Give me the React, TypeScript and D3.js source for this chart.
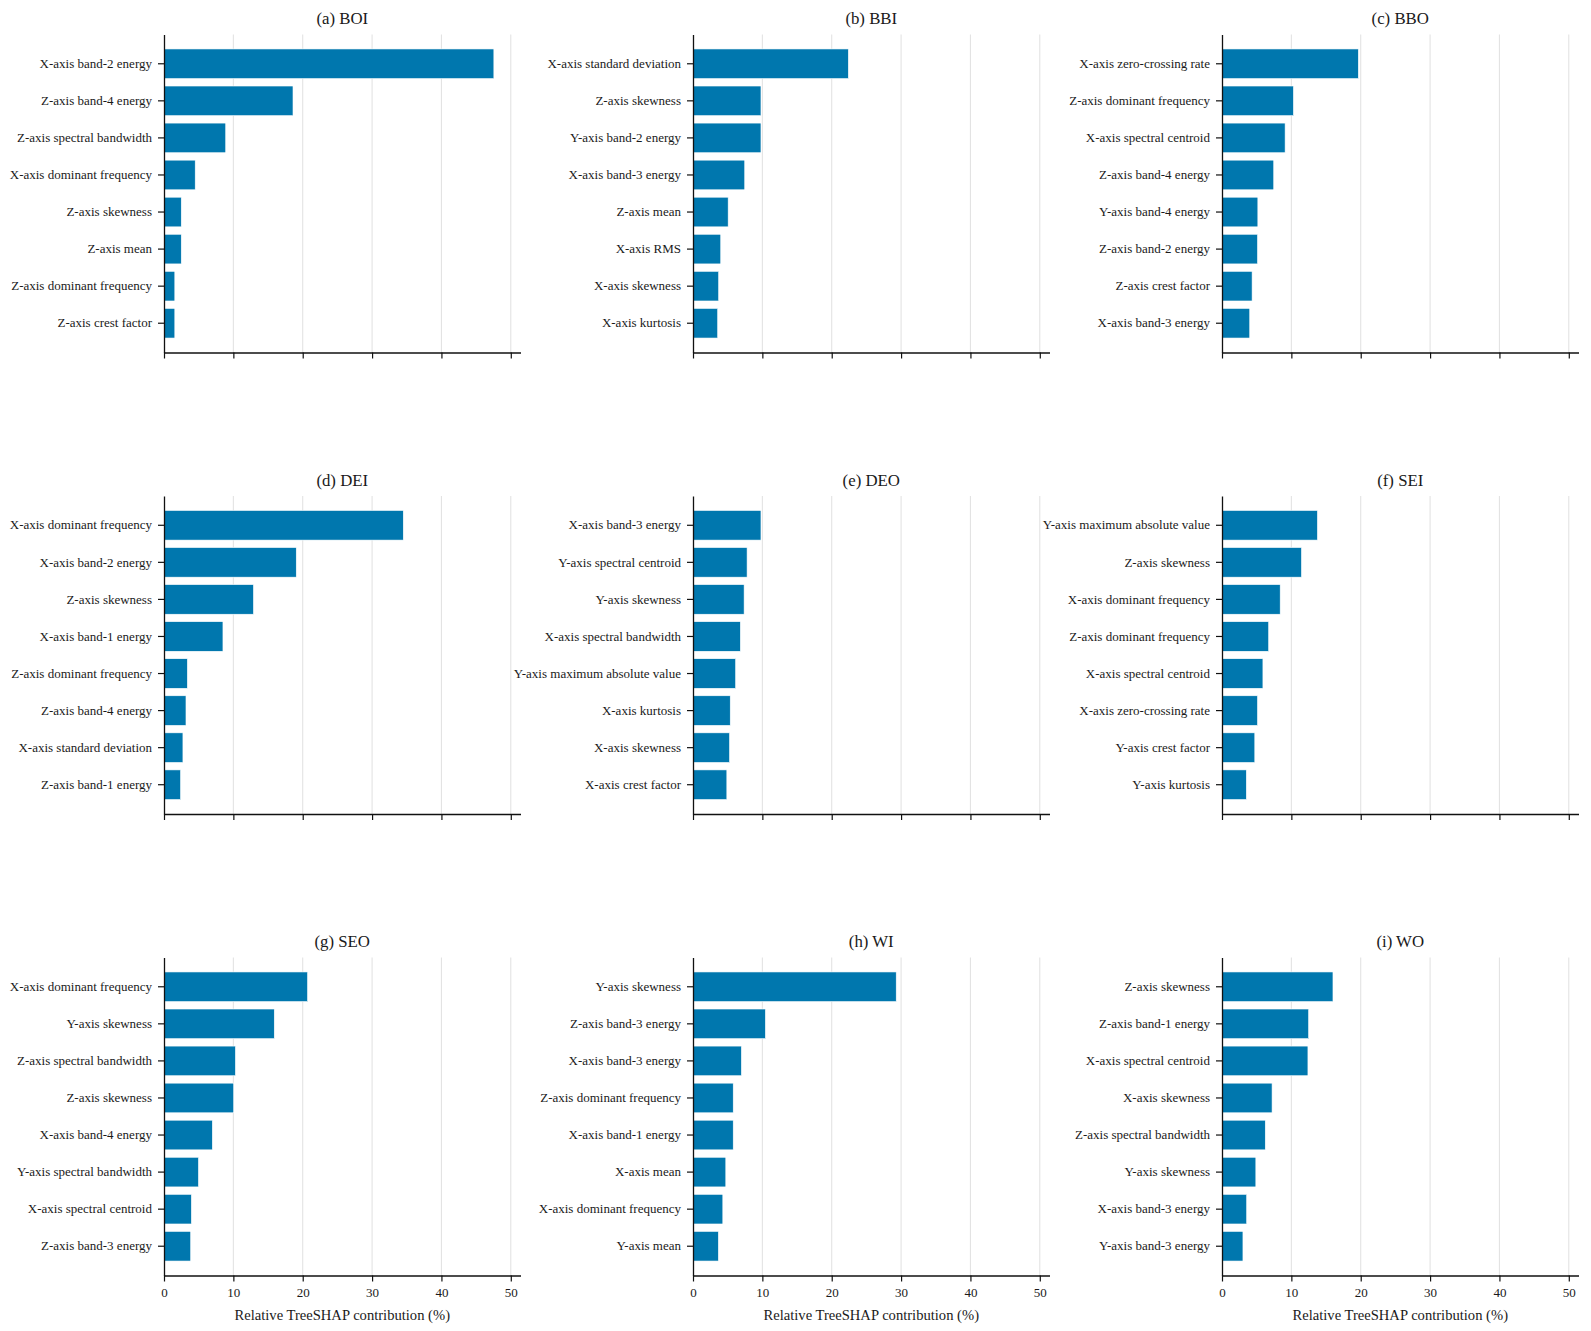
import React, { useEffect, useRef } from 'react';
import * as d3 from 'd3';

// panel titles, in reading order
const panelTitles = ['(a) BOI', '(b) BBI', '(c) BBO', '(d) DEI', '(e) DEO', '(f) SEI', '(g) SEO', '(h) WI', '(i) WO'];

const boiFeatures = ['X-axis band-2 energy', 'Z-axis band-4 energy', 'Z-axis spectral bandwidth', 'X-axis dominant frequency', 'Z-axis skewness', 'Z-axis mean', 'Z-axis dominant frequency', 'Z-axis crest factor'];
const boiValues = [47.56, 18.6, 8.9, 4.5, 2.49, 2.49, 1.56, 1.56];

const bbiFeatures = ['X-axis standard deviation', 'Z-axis skewness', 'Y-axis band-2 energy', 'X-axis band-3 energy', 'Z-axis mean', 'X-axis RMS', 'X-axis skewness', 'X-axis kurtosis'];
const bbiValues = [22.4, 9.8, 9.8, 7.46, 5.07, 4.0, 3.7, 3.56];

const bboFeatures = ['X-axis zero-crossing rate', 'Z-axis dominant frequency', 'X-axis spectral centroid', 'Z-axis band-4 energy', 'Y-axis band-4 energy', 'Z-axis band-2 energy', 'Z-axis crest factor', 'X-axis band-3 energy'];
const bboValues = [19.66, 10.3, 9.1, 7.46, 5.17, 5.12, 4.34, 4.0];

const deiFeatures = ['X-axis dominant frequency', 'X-axis band-2 energy', 'Z-axis skewness', 'X-axis band-1 energy', 'Z-axis dominant frequency', 'Z-axis band-4 energy', 'X-axis standard deviation', 'Z-axis band-1 energy'];
const deiValues = [34.5, 19.07, 12.9, 8.5, 3.37, 3.17, 2.73, 2.39];

const deoFeatures = ['X-axis band-3 energy', 'Y-axis spectral centroid', 'Y-axis skewness', 'X-axis spectral bandwidth', 'Y-axis maximum absolute value', 'X-axis kurtosis', 'X-axis skewness', 'X-axis crest factor'];
const deoValues = [9.8, 7.8, 7.37, 6.83, 6.15, 5.37, 5.27, 4.88];

const seiFeatures = ['Y-axis maximum absolute value', 'Z-axis skewness', 'X-axis dominant frequency', 'Z-axis dominant frequency', 'X-axis spectral centroid', 'X-axis zero-crossing rate', 'Y-axis crest factor', 'Y-axis kurtosis'];
const seiValues = [13.76, 11.46, 8.39, 6.73, 5.9, 5.12, 4.73, 3.51];

const seoFeatures = ['X-axis dominant frequency', 'Y-axis skewness', 'Z-axis spectral bandwidth', 'Z-axis skewness', 'X-axis band-4 energy', 'Y-axis spectral bandwidth', 'X-axis spectral centroid', 'Z-axis band-3 energy'];
const seoValues = [20.7, 15.9, 10.3, 10.05, 6.97, 4.97, 3.95, 3.85];

const wiFeatures = ['Y-axis skewness', 'Z-axis band-3 energy', 'X-axis band-3 energy', 'Z-axis dominant frequency', 'X-axis band-1 energy', 'X-axis mean', 'X-axis dominant frequency', 'Y-axis mean'];
const wiValues = [29.3, 10.44, 6.98, 5.8, 5.8, 4.73, 4.3, 3.66];

const woFeatures = ['Z-axis skewness', 'Z-axis band-1 energy', 'X-axis spectral centroid', 'X-axis skewness', 'Z-axis spectral bandwidth', 'Y-axis skewness', 'X-axis band-3 energy', 'Y-axis band-3 energy'];
const woValues = [16.0, 12.49, 12.39, 7.22, 6.24, 4.88, 3.56, 3.02];

const xTicks = [0, 10, 20, 30, 40, 50];
const xMax = 51.4;
const xLabel = 'Relative TreeSHAP contribution (%)';

const BAR_COLOR = '#0077ae';
const FONT = '"Liberation Serif", "Times New Roman", serif';

export default function App() {
  const svgRef = useRef<SVGSVGElement>(null);

  useEffect(() => {
    if (!svgRef.current) return;
    const svg = d3.select(svgRef.current);
    svg.selectAll('*').remove();

    const features = [boiFeatures, bbiFeatures, bboFeatures, deiFeatures, deoFeatures, seiFeatures, seoFeatures, wiFeatures, woFeatures];
    const values = [boiValues, bbiValues, bboValues, deiValues, deoValues, seiValues, seoValues, wiValues, woValues];

    // plot area layout
    const colLeft = [164, 693, 1222];
    const rowTop = [34.5, 496, 957.5];
    const plotW = 356.5;
    const plotH = 318;

    panelTitles.forEach((title, p) => {
      const col = p % 3;
      const row = Math.floor(p / 3);
      const g = svg.append('g').attr('transform', `translate(${colLeft[col]},${rowTop[row]})`);

      const x = d3.scaleLinear().domain([0, xMax]).range([0, plotW]);
      const y = d3.scaleBand<string>()
        .domain(features[p])
        .range([0, plotH])
        .paddingInner(0.2)
        .paddingOuter(0.39);

      // grid
      g.selectAll('.grid')
        .data(xTicks.filter(t => t > 0))
        .join('line')
        .attr('x1', d => x(d))
        .attr('x2', d => x(d))
        .attr('y1', 0)
        .attr('y2', plotH)
        .attr('stroke', '#e3e3e3')
        .attr('stroke-width', 1.1);

      // bars
      g.selectAll('.bar')
        .data(features[p])
        .join('rect')
        .attr('x', x(0))
        .attr('y', d => y(d)!)
        .attr('width', (_, i) => x(values[p][i]) - x(0))
        .attr('height', y.bandwidth())
        .attr('fill', BAR_COLOR)
        .attr('stroke', '#ffffff')
        .attr('stroke-width', 0.6);

      // y axis
      const yAxis = g.append('g')
        .call(d3.axisLeft(y).tickSize(6).tickPadding(6).tickSizeOuter(0));
      yAxis.select('.domain').attr('stroke', '#111').attr('stroke-width', 1.3);
      yAxis.selectAll('.tick line').attr('stroke', '#111').attr('stroke-width', 1.2);
      yAxis.selectAll('.tick text')
        .attr('font-family', FONT)
        .attr('font-size', 13)
        .attr('fill', '#1a1a1a');

      // x axis
      const xAxis = g.append('g')
        .attr('transform', `translate(0,${plotH})`)
        .call(d3.axisBottom(x).tickValues(xTicks).tickSize(6).tickPadding(6).tickSizeOuter(0)
          .tickFormat(row === 2 ? (d => `${d}`) : () => ''));
      xAxis.select('.domain').attr('stroke', '#111').attr('stroke-width', 1.3);
      xAxis.selectAll('.tick line').attr('stroke', '#111').attr('stroke-width', 1.2);
      xAxis.selectAll('.tick text')
        .attr('font-family', FONT)
        .attr('font-size', 13)
        .attr('fill', '#1a1a1a');

      if (row === 2) {
        g.append('text')
          .attr('x', plotW / 2)
          .attr('y', plotH + 44)
          .attr('text-anchor', 'middle')
          .attr('font-family', FONT)
          .attr('font-size', 14.6)
          .attr('fill', '#1a1a1a')
          .text(xLabel);
      }

      g.append('text')
        .attr('x', plotW / 2)
        .attr('y', -10.5)
        .attr('text-anchor', 'middle')
        .attr('font-family', FONT)
        .attr('font-size', 16.8)
        .attr('fill', '#1a1a1a')
        .text(title);
    });
  }, []);

  return (
    <>
      <style>{'body{margin:0;background:#fff}'}</style>
      <svg ref={svgRef} width={1591} height={1331} style={{ display: 'block' }} />
    </>
  );
}
